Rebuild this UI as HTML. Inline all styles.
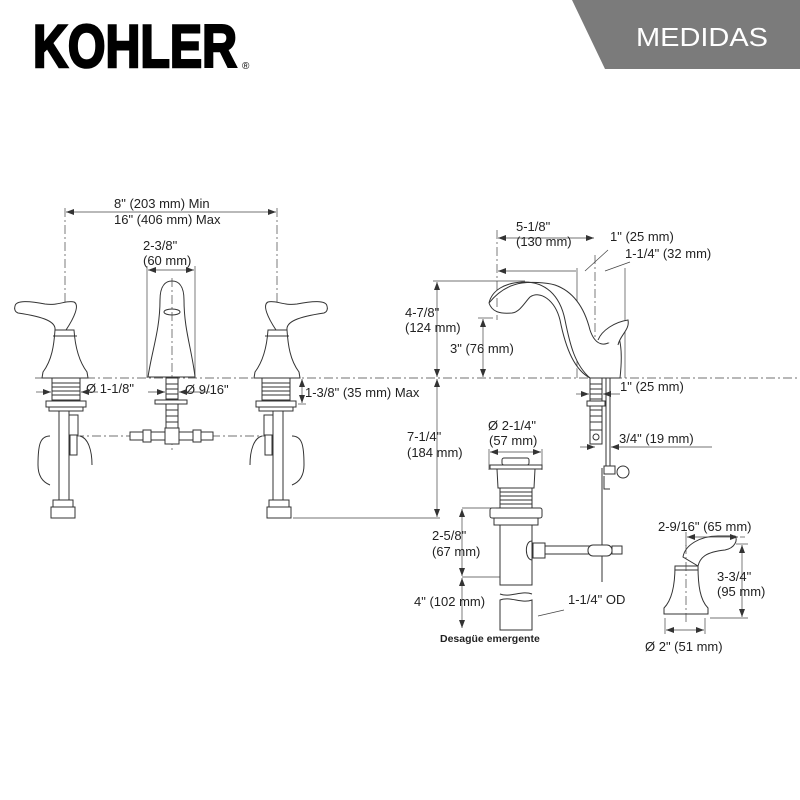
<!DOCTYPE html>
<html><head><meta charset="utf-8"><style>
html,body{margin:0;padding:0;background:#fff;width:800px;height:800px;overflow:hidden}
svg{display:block}
text{font-family:"Liberation Sans",Arial,sans-serif;fill:#222}
.t{font-size:13px}
.l{stroke:#333;stroke-width:1;fill:none}
.f{stroke:#333;stroke-width:1;fill:#fff}
.d{stroke:#444;stroke-width:0.8;fill:none;stroke-dasharray:9 3 2 3}
.m{stroke:#444;stroke-width:0.7;fill:none}
</style></head><body>
<svg width="800" height="800" viewBox="0 0 800 800" xmlns="http://www.w3.org/2000/svg">
<defs>
<marker id="a" markerWidth="8" markerHeight="6" refX="8" refY="3" orient="auto-start-reverse" markerUnits="userSpaceOnUse"><path d="M0,0 L8,3 L0,6 z" fill="#333"/></marker>
</defs>
<text x="33" y="67" font-size="60" font-weight="bold" textLength="204" lengthAdjust="spacingAndGlyphs" style="fill:#000;stroke:#000;stroke-width:2.5">KOHLER</text>
<text x="242" y="69" font-size="10" style="fill:#000">®</text>
<polygon points="572,0 800,0 800,69 605,69" fill="#7b7b7b"/>
<text x="636" y="46" font-size="26" textLength="132" lengthAdjust="spacingAndGlyphs" style="fill:#fff">MEDIDAS</text>

<line class="d" x1="35" y1="378" x2="800" y2="378"/>

<line class="m" x1="65" y1="208" x2="65" y2="378" stroke-dasharray="9 3 2 3"/>
<line class="m" x1="277" y1="208" x2="277" y2="378" stroke-dasharray="9 3 2 3"/>
<line class="m" x1="66" y1="212" x2="276" y2="212" marker-start="url(#a)" marker-end="url(#a)"/>
<text class="t" x="114" y="208">8" (203 mm) Min</text>
<text class="t" x="114" y="224">16" (406 mm) Max</text>
<line class="m" x1="147" y1="266" x2="147" y2="378"/>
<line class="m" x1="195" y1="266" x2="195" y2="378"/>
<line class="m" x1="148" y1="270" x2="194" y2="270" marker-start="url(#a)" marker-end="url(#a)"/>
<text class="t" x="143" y="250">2-3/8"</text>
<text class="t" x="143" y="265">(60 mm)</text>

<path class="f" d="M148,377 C152,350 160,330 160,300 C160,285 166,281 172,281 C178,281 184,285 184,300 C184,330 192,350 195,377 Z"/>
<ellipse class="l" cx="172" cy="312" rx="8" ry="3"/>
<line class="m" x1="172" y1="278" x2="172" y2="450" stroke-dasharray="9 3 2 3"/>
<rect class="f" x="166" y="378" width="12" height="55"/>
<path class="l" d="M166,384 h12 M166,389 h12 M166,394 h12 M166,399 h12 M166,404 h12 M166,410 h12 M166,416 h12 M166,422 h12"/>
<rect class="f" x="155" y="400" width="32" height="4"/>
<text class="t" x="185" y="394">Ø 9/16"</text>
<line class="m" x1="148" y1="392" x2="165" y2="392" marker-end="url(#a)"/>
<line class="m" x1="210" y1="392" x2="179" y2="392" marker-end="url(#a)"/>
<line class="d" x1="75" y1="436" x2="270" y2="436"/>
<rect class="f" x="165" y="428" width="14" height="16"/>
<rect class="f" x="130" y="432" width="13" height="8"/>
<rect class="f" x="143" y="430" width="8" height="12"/>
<rect class="f" x="151" y="432" width="14" height="8"/>
<rect class="f" x="179" y="432" width="14" height="8"/>
<rect class="f" x="193" y="430" width="8" height="12"/>
<rect class="f" x="201" y="432" width="12" height="8"/>

<g id="h">
<path class="f" d="M15,306 C16,300 30,301 45,304 C58,306 66,300 74,302 C80,305 74,318 66,330 L55,330 C56,322 45,317 18,313 C15,312 14,309 15,306 Z"/>
<path class="f" d="M55,330 L74,330 C75,345 78,360 87,372 L88,378 L42,378 L43,372 C52,360 54,345 55,330 Z"/>
<line class="l" x1="53" y1="336" x2="77" y2="336"/>
<rect class="f" x="52" y="378" width="28" height="22"/>
<path class="l" d="M52,383 h28 M52,387 h28 M52,391 h28 M52,395 h28"/>
<rect class="f" x="46" y="401" width="40" height="6"/>
<rect class="f" x="49" y="407" width="34" height="4"/>
<rect class="f" x="59" y="411" width="10" height="90"/>
<rect class="f" x="69" y="415" width="9" height="20"/>
<rect class="f" x="70" y="435" width="7" height="20"/>
<path class="l" d="M50,436 C40,436 38,445 38,465 C38,478 45,483 50,485"/>
<path class="l" d="M80,436 C88,438 92,450 92,465"/>
<rect class="f" x="53" y="500" width="20" height="7"/>
<rect class="f" x="51" y="507" width="24" height="11"/>
</g>
<use href="#h" transform="translate(342,0) scale(-1,1)"/>
<text class="t" x="86" y="393">Ø 1-1/8"</text>
<line class="m" x1="36" y1="392" x2="51" y2="392" marker-end="url(#a)"/>
<line class="m" x1="98" y1="392" x2="81" y2="392" marker-end="url(#a)"/>
<text class="t" x="305" y="397">1-3/8" (35 mm) Max</text>
<line class="m" x1="298" y1="404" x2="306" y2="404"/>
<line class="m" x1="302" y1="379" x2="302" y2="403" marker-start="url(#a)" marker-end="url(#a)"/>

<line class="m" x1="433" y1="281" x2="525" y2="281"/>
<line class="m" x1="437" y1="282" x2="437" y2="377" marker-start="url(#a)" marker-end="url(#a)"/>
<line class="m" x1="437" y1="379" x2="437" y2="517" marker-start="url(#a)" marker-end="url(#a)"/>
<line class="m" x1="293" y1="518" x2="440" y2="518"/>
<text class="t" x="405" y="317">4-7/8"</text>
<text class="t" x="405" y="332">(124 mm)</text>
<text class="t" x="407" y="441">7-1/4"</text>
<text class="t" x="407" y="457">(184 mm)</text>

<line class="m" x1="497" y1="230" x2="497" y2="320" stroke-dasharray="9 3 2 3"/>
<line class="m" x1="577" y1="268" x2="577" y2="378"/>
<line class="m" x1="625" y1="268" x2="625" y2="378"/>
<line class="m" x1="595" y1="255" x2="595" y2="378" stroke-dasharray="9 3 2 3"/>
<line class="m" x1="498" y1="271" x2="576" y2="271" marker-start="url(#a)"/>
<line class="m" x1="498" y1="238" x2="594" y2="238" marker-start="url(#a)" marker-end="url(#a)"/>
<line class="m" x1="585" y1="271" x2="608" y2="250"/>
<line class="m" x1="605" y1="271" x2="630" y2="262"/>
<text class="t" x="516" y="231">5-1/8"</text>
<text class="t" x="516" y="246">(130 mm)</text>
<text class="t" x="610" y="241">1" (25 mm)</text>
<text class="t" x="625" y="258">1-1/4" (32 mm)</text>
<path class="f" d="M489,303 C492,290 505,283 522,282 C545,281 560,295 565,320 C570,345 575,365 590,378 L620,378 C622,360 622,345 618,335 C605,350 595,345 590,330 C585,310 575,292 555,285 C545,282 530,282 522,283 C508,285 497,293 489,303 Z"/>
<path class="f" d="M489,303 C492,312 500,314 512,313 C520,312 525,302 530,297 C540,290 555,300 560,320 C566,350 575,370 590,378"/>
<path class="f" d="M598,340 C602,330 615,322 628,320 C630,330 620,335 618,345"/>
<line class="m" x1="483" y1="319" x2="483" y2="377" marker-start="url(#a)" marker-end="url(#a)"/>
<line class="m" x1="478" y1="318" x2="493" y2="318"/>
<text class="t" x="450" y="353">3" (76 mm)</text>
<rect class="f" x="590" y="378" width="12" height="55"/>
<path class="l" d="M590,384 h12 M590,389 h12 M590,394 h12 M590,399 h12 M590,410 h12 M590,416 h12 M590,422 h12"/>
<rect class="f" x="587" y="401" width="18" height="5"/>
<rect class="f" x="590" y="430" width="12" height="14"/>
<circle class="l" cx="596" cy="437" r="3"/>
<rect class="f" x="606" y="378" width="4" height="90"/>
<line class="l" x1="602" y1="468" x2="602" y2="582"/>
<circle class="f" cx="623" cy="472" r="6"/>
<rect class="f" x="604" y="466" width="11" height="8"/>
<path class="l" d="M604,476 L604,489 L610,489"/>
<line class="m" x1="576" y1="394" x2="589" y2="394" marker-end="url(#a)"/>
<line class="m" x1="620" y1="394" x2="603" y2="394" marker-end="url(#a)"/>
<text class="t" x="620" y="391">1" (25 mm)</text>
<line class="m" x1="580" y1="447" x2="595" y2="447" marker-end="url(#a)"/>
<line class="m" x1="712" y1="447" x2="611" y2="447" marker-end="url(#a)"/>
<text class="t" x="619" y="443">3/4" (19 mm)</text>

<text class="t" x="488" y="430">Ø 2-1/4"</text>
<text class="t" x="489" y="445">(57 mm)</text>
<line class="m" x1="489" y1="449" x2="489" y2="470"/>
<line class="m" x1="542" y1="449" x2="542" y2="470"/>
<line class="m" x1="490" y1="452" x2="541" y2="452" marker-start="url(#a)" marker-end="url(#a)"/>
<rect class="f" x="502" y="458" width="27" height="7" rx="2"/>
<rect class="f" x="490" y="465" width="52" height="4"/>
<path class="f" d="M497,469 L535,469 L534,488 L498,488 Z"/>
<rect class="f" x="500" y="488" width="32" height="20"/>
<path class="l" d="M500,492 h32 M500,496 h32 M500,500 h32 M500,504 h32"/>
<rect class="f" x="490" y="508" width="52" height="10" rx="2"/>
<rect class="f" x="494" y="518" width="44" height="7"/>
<rect class="f" x="500" y="525" width="32" height="60"/>
<path class="f" d="M532,541 C524,541 525,560 532,560 Z"/>
<rect class="f" x="533" y="543" width="12" height="15"/>
<rect class="f" x="545" y="546" width="45" height="8"/>
<rect class="f" x="588" y="545" width="24" height="11" rx="5"/>
<rect class="f" x="612" y="546" width="10" height="8"/>
<path class="l" d="M500,594 C510,598 522,590 532,594"/>
<path class="l" d="M500,600 C510,596 522,604 532,600 L532,630 L500,630 Z"/>
<line class="m" x1="462" y1="508" x2="496" y2="508"/>
<line class="m" x1="462" y1="577" x2="500" y2="577"/>
<line class="m" x1="462" y1="509" x2="462" y2="576" marker-start="url(#a)" marker-end="url(#a)"/>
<line class="m" x1="462" y1="578" x2="462" y2="628" marker-start="url(#a)" marker-end="url(#a)"/>
<text class="t" x="432" y="540">2-5/8"</text>
<text class="t" x="432" y="556">(67 mm)</text>
<text class="t" x="414" y="606">4" (102 mm)</text>
<text class="t" x="568" y="604">1-1/4" OD</text>
<line class="m" x1="538" y1="616" x2="564" y2="610"/>
<text x="440" y="642" font-size="10.5" font-weight="bold">Desagüe emergente</text>

<path class="f" d="M683,557 C685,545 700,536 718,536 L735,536 C738,540 735,548 725,550 C705,552 700,558 698,566 Z"/>
<path class="f" d="M675,566 L698,566 C698,585 700,600 708,608 L708,614 L664,614 L664,608 C672,600 675,585 675,566 Z"/>
<line class="l" x1="675" y1="570" x2="698" y2="570"/>
<line class="m" x1="686" y1="545" x2="686" y2="625" stroke-dasharray="9 3 2 3"/>
<line class="m" x1="686" y1="532" x2="686" y2="546"/>
<line class="m" x1="687" y1="537" x2="738" y2="537" marker-start="url(#a)" marker-end="url(#a)"/>
<line class="m" x1="740" y1="537" x2="745" y2="537"/>
<text class="t" x="658" y="531">2-9/16" (65 mm)</text>
<line class="m" x1="736" y1="544" x2="748" y2="544"/>
<line class="m" x1="710" y1="618" x2="748" y2="618"/>
<line class="m" x1="742" y1="545" x2="742" y2="617" marker-start="url(#a)" marker-end="url(#a)"/>
<text class="t" x="717" y="581">3-3/4"</text>
<text class="t" x="717" y="596">(95 mm)</text>
<line class="m" x1="665" y1="618" x2="665" y2="634"/>
<line class="m" x1="705" y1="618" x2="705" y2="634"/>
<line class="m" x1="666" y1="630" x2="704" y2="630" marker-start="url(#a)" marker-end="url(#a)"/>
<text class="t" x="645" y="651">Ø 2" (51 mm)</text>
</svg>
</body></html>
